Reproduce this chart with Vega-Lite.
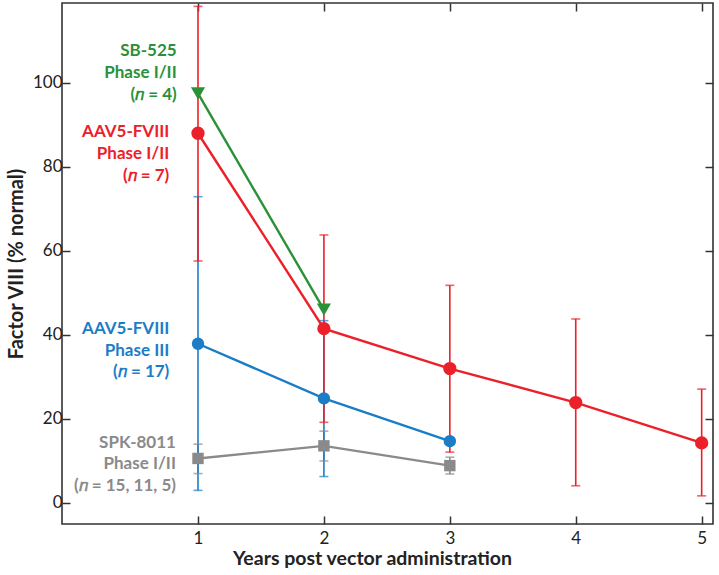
{
  "$schema": "https://vega.github.io/schema/vega-lite/v6.json",
  "width": 651,
  "height": 521,
  "autosize": "none",
  "padding": {"left": 62, "top": 3, "right": 6, "bottom": 51},
  "background": "white",
  "config": {
    "view": {"stroke": "#333333", "strokeWidth": 1.6},
    "font": "Lato",
    "axis": {"grid": false, "domain": false, "tickColor": "#333333", "tickWidth": 1.5, "labelColor": "#222222", "titleColor": "#222222", "labelFont": "Lato", "titleFont": "Lato"}
  },
  "datasets": {
    "pts": [
      {"series": "gray", "year": 1, "value": 10.6, "lo": 7.0, "hi": 14.0},
      {"series": "gray", "year": 2, "value": 13.6, "lo": 10.0, "hi": 17.1},
      {"series": "gray", "year": 3, "value": 8.9, "lo": 6.9, "hi": 10.9},
      {"series": "blue", "year": 1, "value": 37.9, "lo": 3.0, "hi": 72.9},
      {"series": "blue", "year": 2, "value": 24.9, "lo": 6.3, "hi": 43.4},
      {"series": "blue", "year": 3, "value": 14.7, "lo": null, "hi": null},
      {"series": "red", "year": 1, "value": 88.0, "lo": 57.6, "hi": 118.2},
      {"series": "red", "year": 2, "value": 41.5, "lo": 19.2, "hi": 63.8},
      {"series": "red", "year": 3, "value": 32.0, "lo": 12.1, "hi": 51.8},
      {"series": "red", "year": 4, "value": 23.9, "lo": 4.1, "hi": 43.8},
      {"series": "red", "year": 5, "value": 14.3, "lo": 1.7, "hi": 27.1},
      {"series": "green", "year": 1, "value": 97.5, "lo": null, "hi": null},
      {"series": "green", "year": 2, "value": 46.0, "lo": null, "hi": null}
    ],
    "labels": [
      {"series": "green", "x": 0.831, "y": 106.3, "text": "SB-525"},
      {"series": "green", "x": 0.831, "y": 101.1, "text": "Phase I/II"},
      {"series": "green", "x": 0.831, "y": 96.0, "text": "(𝑛 = 4)"},
      {"series": "red", "x": 0.772, "y": 87.2, "text": "AAV5-FVIII"},
      {"series": "red", "x": 0.772, "y": 81.9, "text": "Phase I/II"},
      {"series": "red", "x": 0.772, "y": 76.6, "text": "(𝑛 = 7)"},
      {"series": "blue", "x": 0.772, "y": 40.3, "text": "AAV5-FVIII"},
      {"series": "blue", "x": 0.772, "y": 35.1, "text": "Phase III"},
      {"series": "blue", "x": 0.772, "y": 29.9, "text": "(𝑛 = 17)"},
      {"series": "gray", "x": 0.825, "y": 13.2, "text": "SPK-8011"},
      {"series": "gray", "x": 0.825, "y": 8.0, "text": "Phase I/II"},
      {"series": "gray", "x": 0.825, "y": 2.8, "text": "(𝑛 = 15, 11, 5)"}
    ]
  },
  "resolve": {"axis": {"x": "independent", "y": "independent"}},
  "layer": [
    {
      "data": {"name": "pts"},
      "transform": [{"filter": "datum.lo != null"}],
      "mark": {"type": "rule", "strokeWidth": 1.6},
      "encoding": {
        "x": {"field": "year", "type": "quantitative", "scale": {"domain": [-0.08, 5.09], "nice": false, "zero": false},
          "axis": {"orient": "bottom", "values": [1, 2, 3, 4, 5], "tickSize": -8, "labelPadding": 14, "labelFontSize": 17, "title": "Years post vector administration", "titleFontSize": 19.5, "titleFontWeight": "bold", "titlePadding": 3, "titleX": 310}},
        "y": {"field": "lo", "type": "quantitative", "scale": {"domain": [-5, 119], "nice": false, "zero": false},
          "axis": {"orient": "left", "values": [0, 20, 40, 60, 80, 100], "tickSize": -8, "labelPadding": 8, "labelFontSize": 17, "title": "Factor VIII (% normal)", "titleFontSize": 20, "titleFontWeight": "bold", "titlePadding": 6}},
        "y2": {"field": "hi"},
        "color": {"field": "series", "type": "nominal", "scale": {"domain": ["gray", "blue", "red", "green"], "range": ["#8a8a8a", "#1b7dc6", "#ec2029", "#2b9138"]}, "legend": null}
      }
    },
    {
      "data": {"name": "pts"},
      "transform": [{"filter": "datum.lo != null"}],
      "mark": {"type": "tick", "orient": "horizontal", "size": 9, "thickness": 1.6},
      "encoding": {
        "x": {"field": "year", "type": "quantitative", "axis": null},
        "y": {"field": "lo", "type": "quantitative", "axis": null},
        "color": {"field": "series", "type": "nominal", "legend": null}
      }
    },
    {
      "data": {"name": "pts"},
      "transform": [{"filter": "datum.hi != null"}],
      "mark": {"type": "tick", "orient": "horizontal", "size": 9, "thickness": 1.6},
      "encoding": {
        "x": {"field": "year", "type": "quantitative", "axis": null},
        "y": {"field": "hi", "type": "quantitative", "axis": null},
        "color": {"field": "series", "type": "nominal", "legend": null}
      }
    },
    {
      "data": {"name": "pts"},
      "mark": {"type": "line", "strokeWidth": 2.4},
      "encoding": {
        "x": {"field": "year", "type": "quantitative",
          "axis": {"orient": "top", "values": [1, 2, 3, 4, 5], "tickSize": -8, "labels": false, "title": null}},
        "y": {"field": "value", "type": "quantitative",
          "axis": {"orient": "right", "values": [0, 20, 40, 60, 80, 100], "tickSize": -8, "labels": false, "title": null}},
        "color": {"field": "series", "type": "nominal", "legend": null},
        "detail": {"field": "series"}
      }
    },
    {
      "data": {"name": "pts"},
      "mark": {"type": "point", "filled": true, "opacity": 1},
      "encoding": {
        "x": {"field": "year", "type": "quantitative", "axis": null},
        "y": {"field": "value", "type": "quantitative", "axis": null},
        "color": {"field": "series", "type": "nominal", "legend": null},
        "shape": {"field": "series", "type": "nominal", "scale": {"domain": ["gray", "blue", "red", "green"], "range": ["square", "circle", "circle", "triangle-down"]}, "legend": null},
        "size": {"field": "series", "type": "nominal", "scale": {"domain": ["gray", "blue", "red", "green"], "range": [130, 200, 200, 260]}, "legend": null}
      }
    },
    {
      "data": {"name": "labels"},
      "mark": {"type": "text", "align": "right", "baseline": "alphabetic", "fontSize": 17, "fontWeight": "bold", "font": "Lato"},
      "encoding": {
        "x": {"field": "x", "type": "quantitative", "axis": null},
        "y": {"field": "y", "type": "quantitative", "axis": null},
        "text": {"field": "text"},
        "color": {"field": "series", "type": "nominal", "legend": null}
      }
    }
  ]
}
